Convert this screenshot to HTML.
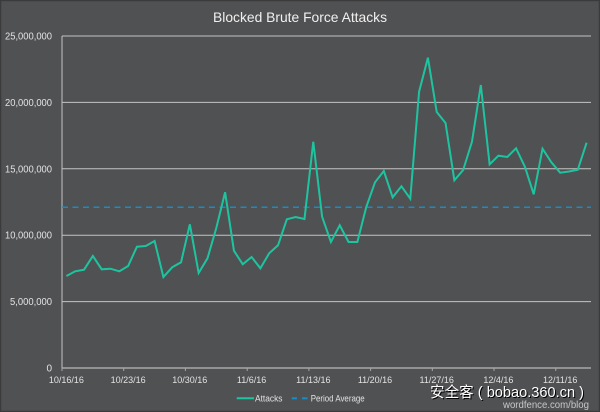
<!DOCTYPE html>
<html><head><meta charset="utf-8"><style>
html,body{margin:0;padding:0;background:#505153;}
svg{display:block;}
</style></head><body>
<svg width="600" height="412" viewBox="0 0 600 412" xmlns="http://www.w3.org/2000/svg" font-family="'Liberation Sans', 'Noto Sans CJK SC', sans-serif">
<rect x="0" y="0" width="600" height="412" fill="#505153"/>
<rect x="0.5" y="0.5" width="599" height="411" fill="none" stroke="#3b3b3b" stroke-width="1.5"/>
<text x="300" y="22" text-anchor="middle" font-size="14" fill="#f0f0f0" textLength="174" lengthAdjust="spacingAndGlyphs">Blocked Brute Force Attacks</text>
<g stroke="#c4c4c4" stroke-width="1">
<line x1="62" y1="36" x2="591" y2="36"/>
<line x1="62" y1="102.4" x2="591" y2="102.4"/>
<line x1="62" y1="168.8" x2="591" y2="168.8"/>
<line x1="62" y1="235.2" x2="591" y2="235.2"/>
<line x1="62" y1="301.6" x2="591" y2="301.6"/>
<line x1="62" y1="36" x2="62" y2="368"/>
</g>
<line x1="62" y1="368" x2="591" y2="368" stroke="#a8a8a8" stroke-width="1.6"/>
<g stroke="#a8a8a8" stroke-width="1">
<line x1="62" y1="368" x2="62" y2="371"/>
<line x1="123.7" y1="368" x2="123.7" y2="371"/>
<line x1="185.4" y1="368" x2="185.4" y2="371"/>
<line x1="247.2" y1="368" x2="247.2" y2="371"/>
<line x1="308.9" y1="368" x2="308.9" y2="371"/>
<line x1="370.6" y1="368" x2="370.6" y2="371"/>
<line x1="432.3" y1="368" x2="432.3" y2="371"/>
<line x1="494" y1="368" x2="494" y2="371"/>
<line x1="555.8" y1="368" x2="555.8" y2="371"/>
</g>
<g font-size="10" fill="#e2e2e2" text-anchor="end">
<text x="52" y="39.5" textLength="47" lengthAdjust="spacingAndGlyphs">25,000,000</text>
<text x="52" y="106" textLength="47" lengthAdjust="spacingAndGlyphs">20,000,000</text>
<text x="52" y="172.3" textLength="47" lengthAdjust="spacingAndGlyphs">15,000,000</text>
<text x="52" y="238.7" textLength="47" lengthAdjust="spacingAndGlyphs">10,000,000</text>
<text x="52" y="305.1" textLength="42" lengthAdjust="spacingAndGlyphs">5,000,000</text>
<text x="52" y="371.5">0</text>
</g>
<g font-size="9" fill="#e2e2e2" text-anchor="middle">
<text x="66.4" y="383">10/16/16</text>
<text x="128.1" y="383">10/23/16</text>
<text x="189.8" y="383">10/30/16</text>
<text x="251.6" y="383">11/6/16</text>
<text x="313.3" y="383">11/13/16</text>
<text x="375" y="383">11/20/16</text>
<text x="436.7" y="383">11/27/16</text>
<text x="498.4" y="383">12/4/16</text>
<text x="560.2" y="383">12/11/16</text>
</g>
<line x1="62" y1="207.3" x2="591" y2="207.3" stroke="#1a8cc0" stroke-width="1.5" stroke-dasharray="6,4.5"/>
<polyline fill="none" stroke="#1ec4a0" stroke-width="2" stroke-linejoin="miter" points="66.41,276 75.23,271.3 84.04,269.7 92.86,256 101.68,269.3 110.49,268.7 119.31,271.3 128.13,266 136.94,246.7 145.76,246 154.58,241 163.40,277 172.21,267.3 181.03,262.3 189.85,224.3 198.66,273 207.48,258.3 216.30,228 225.11,192.3 233.93,250.7 242.75,264.3 251.57,257 260.38,268.3 269.20,253.3 278.02,245.3 286.83,219.3 295.65,217 304.47,219 313.28,141.7 322.10,216.7 330.92,242 339.74,225.3 348.55,242 357.37,242 366.19,207.3 375.00,182.3 383.82,171 392.64,197.3 401.45,186.3 410.27,198.7 419.09,91.7 427.91,57.7 436.72,112 445.54,123 454.36,180.3 463.17,170 471.99,141.7 480.81,85 489.62,164.3 498.44,155.7 507.26,157 516.08,148.3 524.89,166.7 533.71,194.3 542.53,148.7 551.34,162.3 560.16,172.7 568.98,171.5 577.79,169.7 586.61,142.7"/>
<line x1="236.7" y1="398.3" x2="254" y2="398.3" stroke="#1ec4a0" stroke-width="2"/>
<text x="255" y="401.5" font-size="9" fill="#e2e2e2" textLength="27.5" lengthAdjust="spacingAndGlyphs">Attacks</text>
<line x1="291.7" y1="398.3" x2="297" y2="398.3" stroke="#1a8cc0" stroke-width="2"/>
<line x1="302" y1="398.3" x2="307.5" y2="398.3" stroke="#1a8cc0" stroke-width="2"/>
<text x="310.7" y="401.5" font-size="9" fill="#e2e2e2" textLength="54" lengthAdjust="spacingAndGlyphs">Period Average</text>
<text x="503" y="408" font-size="10" fill="#c8c8c8" textLength="86" lengthAdjust="spacingAndGlyphs">wordfence.com/blog</text>
<text x="431" y="398" font-size="15" fill="#000" textLength="154" lengthAdjust="spacingAndGlyphs">安全客 ( bobao.360.cn )</text>
<text x="430" y="397" font-size="15" fill="#ffffff" textLength="154" lengthAdjust="spacingAndGlyphs">安全客 ( bobao.360.cn )</text>
</svg>
</body></html>
